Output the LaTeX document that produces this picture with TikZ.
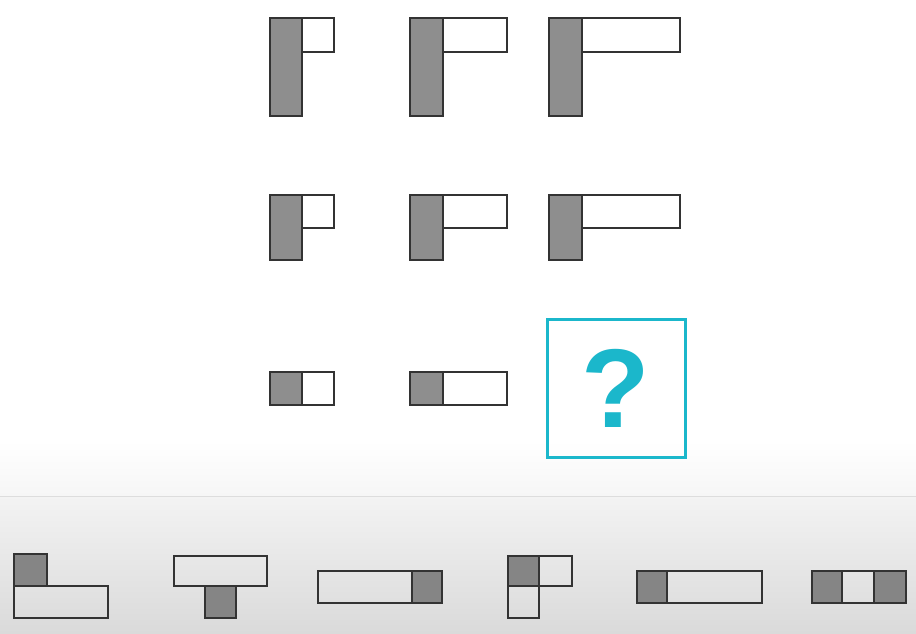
\documentclass[tikz,border=0pt]{standalone}
\usepackage{fontspec}
\setmainfont{Liberation Sans}
\usepackage{xcolor}
\usepackage{tikz}

\definecolor{cellgray}{HTML}{8E8E8E}
\definecolor{optgray}{HTML}{858585}
\definecolor{edgegray}{HTML}{333333}
\definecolor{qcyan}{HTML}{1BB7CB}
\definecolor{fadegray}{HTML}{F6F6F6}
\definecolor{bandtop}{HTML}{F3F3F3}
\definecolor{bandbot}{HTML}{DADADA}
\definecolor{sepgray}{HTML}{DDDDDD}

\begin{document}
\begin{tikzpicture}[x=1pt,y=-1pt,
  dark/.style={draw=edgegray,fill=cellgray,line width=1.5pt},
  light/.style={draw=edgegray,fill=white,line width=1.5pt},
  optdark/.style={draw=edgegray,fill=optgray,line width=1.5pt},
  hollow/.style={draw=edgegray,line width=1.5pt},
  qbox/.style={draw=qcyan,line width=3pt}]

\useasboundingbox (0,0) rectangle (916,633);

% background and answer band
\fill[white] (0,0) rectangle (916,633);
\shade[top color=white,bottom color=fadegray] (0,440) rectangle (916,496);
\shade[top color=bandtop,bottom color=bandbot] (0,496) rectangle (916,633);
\draw[sepgray,line width=1pt] (0,496) -- (916,496);

% --- Top Row ---
\draw[dark] (270,18) rectangle (302,116);
\draw[light] (302,18) rectangle (334,52);
\draw[dark] (410,18) rectangle (443,116);
\draw[light] (443,18) rectangle (507,52);
\draw[dark] (549,18) rectangle (582,116);
\draw[light] (582,18) rectangle (680,52);

% --- Middle Row ---
\draw[dark] (270,195) rectangle (302,260);
\draw[light] (302,195) rectangle (334,228);
\draw[dark] (410,195) rectangle (443,260);
\draw[light] (443,195) rectangle (507,228);
\draw[dark] (549,195) rectangle (582,260);
\draw[light] (582,195) rectangle (680,228);

% --- Bottom Row ---
\draw[dark] (270,372) rectangle (302,405);
\draw[light] (302,372) rectangle (334,405);
\draw[dark] (410,372) rectangle (443,405);
\draw[light] (443,372) rectangle (507,405);
\draw[qbox] (547,319) rectangle (685,457);
\node[text=qcyan,font=\fontsize{112}{112}\selectfont\bfseries] (qmark) at (616,388) {?};

% --- Answer options ---
\draw[optdark] (14,554) rectangle (47,586);
\draw[hollow] (14,586) rectangle (108,618);

\draw[hollow] (174,556) rectangle (267,586);
\draw[optdark] (205,586) rectangle (236,618);

\draw[hollow] (318,571) rectangle (412,603);
\draw[optdark] (412,571) rectangle (442,603);

\draw[optdark] (508,556) rectangle (539,586);
\draw[hollow] (539,556) rectangle (572,586);
\draw[hollow] (508,586) rectangle (539,618);

\draw[optdark] (637,571) rectangle (667,603);
\draw[hollow] (667,571) rectangle (762,603);

\draw[optdark] (812,571) rectangle (842,603);
\draw[hollow] (842,571) rectangle (874,603);
\draw[optdark] (874,571) rectangle (906,603);

\end{tikzpicture}
\end{document}
